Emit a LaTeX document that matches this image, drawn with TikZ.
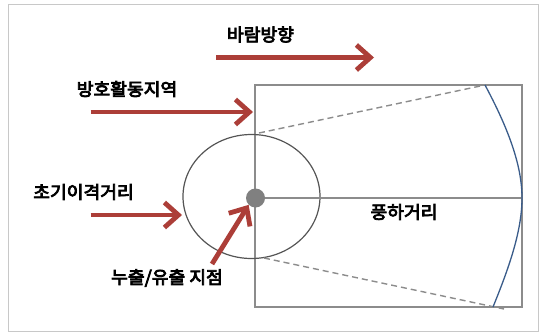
\documentclass[tikz,border=0pt]{standalone}
\usepackage{fontspec}
\newfontfamily\kofont{Noto Sans CJK KR}[FakeBold=4.5, FakeStretch=1.04]
\usetikzlibrary{arrows.meta}

\definecolor{arrowred}{RGB}{172,62,56}
\definecolor{boxgray}{RGB}{140,140,140}
\definecolor{ringgray}{RGB}{85,85,85}
\definecolor{dotgray}{RGB}{128,128,128}
\definecolor{edgeblue}{RGB}{58,92,138}
\definecolor{framegray}{RGB}{200,200,200}

\tikzset{
    redarrow/.style={-{Straight Barb[length=14pt,width=25pt]}, draw=arrowred, line width=4.8pt},
    kotext/.style={font=\kofont\fontsize{17.5}{20}\selectfont, inner sep=0pt},
    dashedge/.style={draw=boxgray, dashed, dash pattern=on 6pt off 4pt, line width=1.4pt}
}

\begin{document}
\begin{tikzpicture}[x=1pt, y=-1pt]

    % 바탕과 외곽선
    \useasboundingbox (0,0) rectangle (545,333);
    \fill[white] (0,0) rectangle (545,333);
    \draw[framegray, line width=0.8pt] (8,4) rectangle (538,331);

    % 주요 좌표
    \coordinate (P) at (255.5,198);      % 누출 지점
    \coordinate (BoxTL) at (255,85);
    \coordinate (BoxBR) at (522,307);
    \coordinate (E) at (522,198);        % 풍하거리 끝
    \coordinate (UpEnd) at (485,85);
    \coordinate (LoEnd) at (504,309);
    \coordinate (ArcLo) at (493,307);

    % 1. 방호활동지역 사각형과 초기이격 원
    \draw[boxgray, line width=1.4pt] (BoxTL) rectangle (BoxBR);
    \draw[ringgray, line width=1.2pt] (251.5,196.5) ellipse [x radius=68.5, y radius=62];

    % 2. 풍하거리 선과 점선 경계
    \draw[boxgray, line width=1.5pt] (P) -- (E);
    \draw[dashedge] (259,133) -- (UpEnd);
    \draw[dashedge] (264,258) -- (LoEnd);

    % 3. 오른쪽 곡선
    \draw[edgeblue, line width=1.3pt] (UpEnd) .. controls (508,128) and (522,165) .. (E)
        .. controls (522,232) and (508,270) .. (ArcLo);

    % 4. 누출 지점
    \node[circle, fill=dotgray, minimum size=19pt, inner sep=0pt] (leak) at (P) {};

    % 5. 글자
    \node[kotext] (wind)   at (260.5,34.5)  {바람방향};
    \node[kotext] (zone)   at (127,89)   {방호활동지역};
    \node[kotext] (isol)   at (83.5,192) {초기이격거리};
    \node[kotext] (spot)   at (167,278)  {누출/유출 지점};
    \node[kotext] (down)   at (404,212)  {풍하거리};

    % 6. 빨간 화살표
    \draw[redarrow] (216,57.5) -- (374,57.5);
    \draw[redarrow] (90.5,112) -- (253,112);
    \draw[redarrow] (90.5,215) -- (182,215);
    \draw[redarrow] (212,264) -- (leak.south west);

\end{tikzpicture}
\end{document}
